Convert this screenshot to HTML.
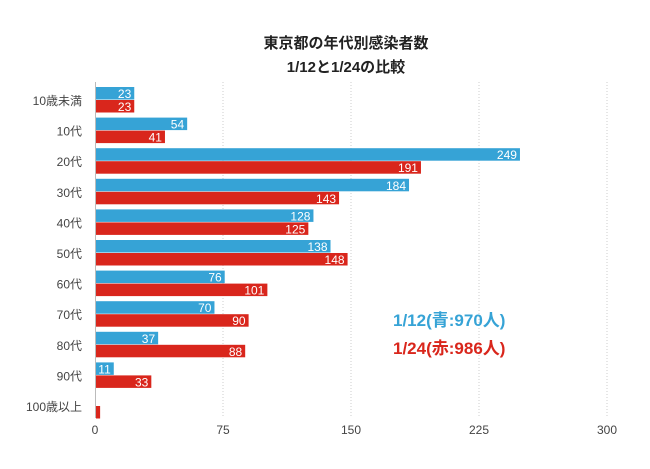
<!DOCTYPE html>
<html><head><meta charset="utf-8"><style>
body{margin:0;background:#fff;}
svg{display:block;font-family:"Liberation Sans","Noto Sans CJK JP",sans-serif;}
</style></head><body>
<svg id="c" width="650" height="469">
<text x="346" y="48" text-anchor="middle" font-size="15" font-weight="bold" fill="#222">東京都の年代別感染者数</text>
<text x="346" y="72" text-anchor="middle" font-size="15" font-weight="bold" fill="#222">1/12と1/24の比較</text>
<g id="grid"></g><g id="bars"></g><g id="labels"></g>
<line x1="95.5" y1="82" x2="95.5" y2="418" stroke="#bbb"/>
<text x="393" y="326" font-size="17" font-weight="bold" fill="#36a3d6">1/12(青:970人)</text>
<text x="393" y="354" font-size="17" font-weight="bold" fill="#d9261c">1/24(赤:986人)</text>
</svg>
<script>
const categories=["10歳未満","10代","20代","30代","40代","50代","60代","70代","80代","90代","100歳以上"];
const jan12=[23,54,249,184,128,138,76,70,37,11,0];
const jan24=[23,41,191,143,125,148,101,90,88,33,3];
const ticks=[0,75,150,225,300];
const NS="http://www.w3.org/2000/svg";
const x=v=>95+v*512/300;
const yc=i=>100+i*30.6;
function mk(t,a,p){const e=document.createElementNS(NS,t);for(const k in a)e.setAttribute(k,a[k]);p.appendChild(e);return e;}
const grid=document.getElementById('grid'),bars=document.getElementById('bars'),labels=document.getElementById('labels');
ticks.forEach(t=>{
 if(t>0){const l=mk('line',{x1:x(t),x2:x(t),y1:82,y2:418,stroke:'#ccc','stroke-dasharray':'1,2'},grid);
 
 }
 const tx=mk('text',{x:x(t),y:434,'text-anchor':'middle','font-size':12,fill:'#444'},labels);tx.textContent=t;
 
 
});
categories.forEach((c,i)=>{
 const cy=yc(i);
 const lb=mk('text',{x:82,y:cy+5,'text-anchor':'end','font-size':12,fill:'#444'},labels);lb.textContent=c;
 
 
 [[jan12[i],'#36a3d6',cy-13,'jan12'],[jan24[i],'#d9261c',cy,'jan24']].forEach(([v,col,y,s])=>{
  if(v<=0)return;
  const r=mk('rect',{x:96,y:y,width:x(v)-96,height:12.5,fill:col},bars);
  
  
  if(v>=10){const t=mk('text',{x:x(v)-3,y:y+11,'text-anchor':'end','font-size':12,fill:'#fff'},labels);t.textContent=v;
  
  }
 });
});
</script>
</body></html>
